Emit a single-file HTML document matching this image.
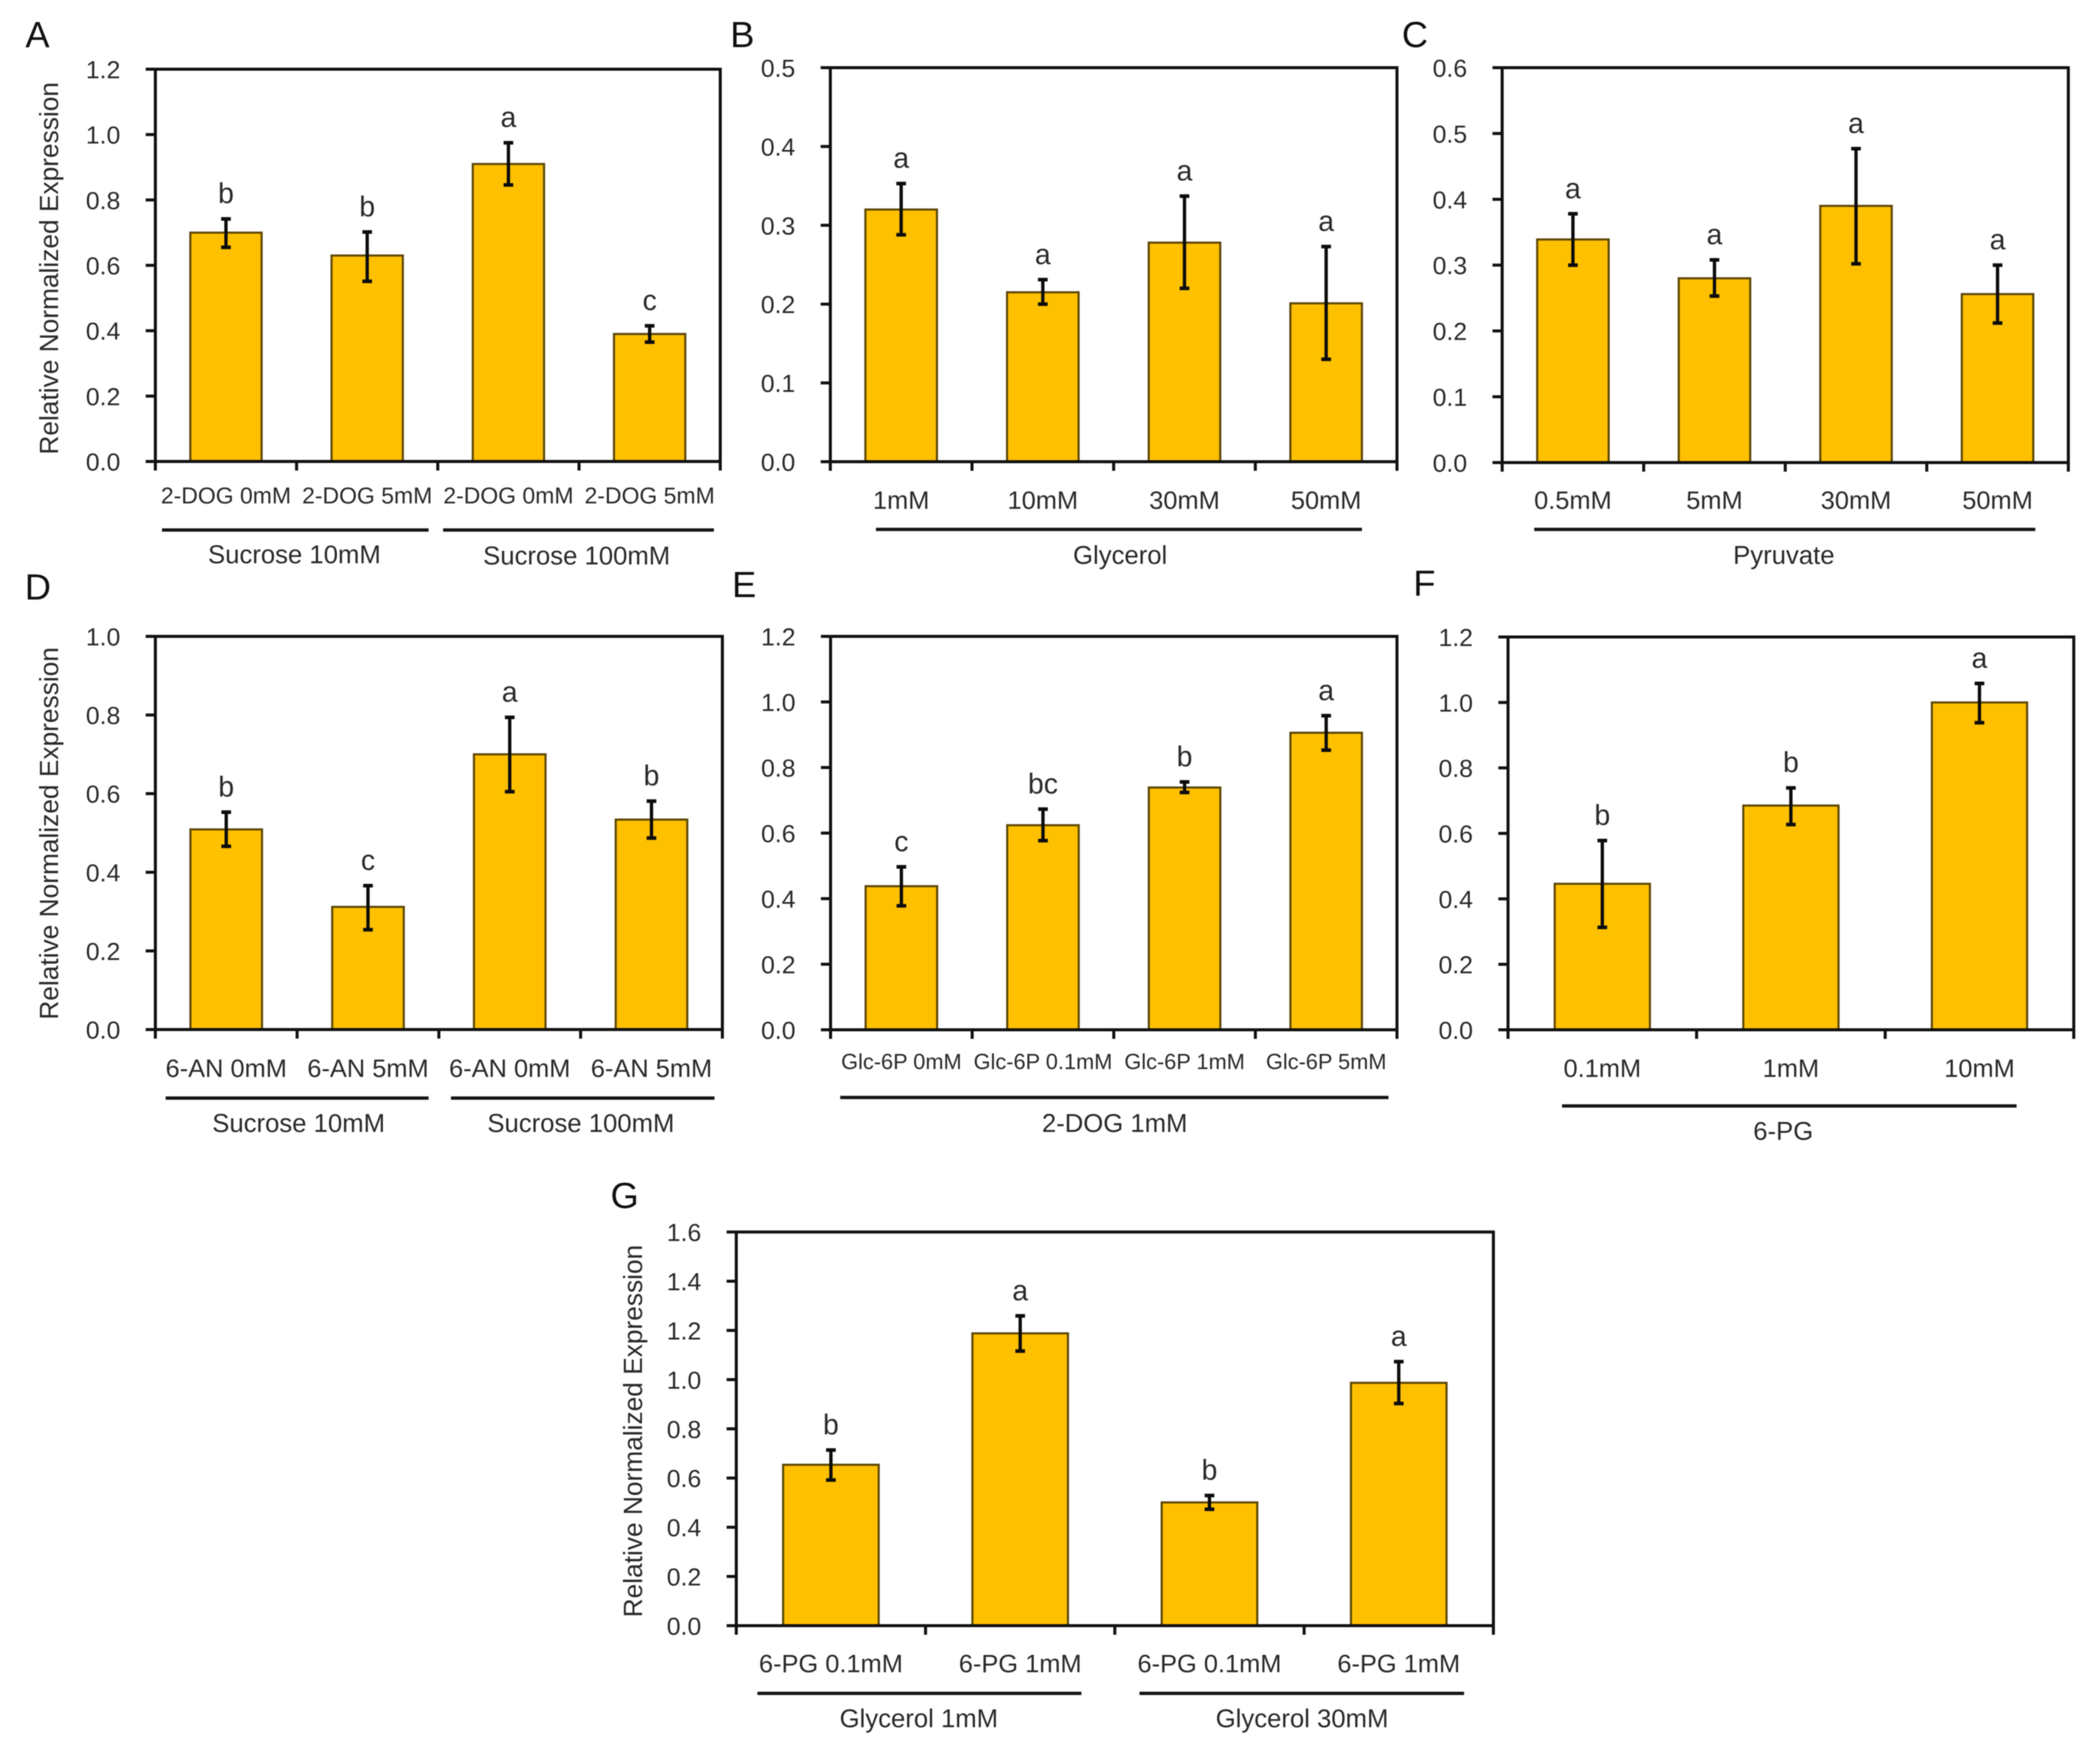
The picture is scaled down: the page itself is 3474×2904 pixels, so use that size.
<!DOCTYPE html>
<html lang="en">
<head>
<meta charset="utf-8">
<title>Relative normalized expression bar charts</title>
<style>
html,body{margin:0;padding:0;background:#fff;}
svg{display:block;filter:blur(0.8px);}
text{font-family:"Liberation Sans",Arial,sans-serif;fill:#2a2a2a;}
.pl{font-size:60px;fill:#111;}
.gl{font-size:42.5px;text-anchor:middle;}
.yt{font-size:43.5px;text-anchor:middle;}
.gr{stroke:#151515;stroke-width:5.5;}
</style>
</head>
<body>
<svg id="figure" xmlns="http://www.w3.org/2000/svg" width="3474" height="2904" viewBox="0 0 3474 2904">
  <rect width="3474" height="2904" fill="#fff"/>

  <g id="panel-a">
    <text class="pl" x="42" y="78">A</text>
    <text class="yt" transform="translate(96,444) rotate(-90)">Relative Normalized Expression</text>
    <line class="gr" x1="268" x2="709" y1="877" y2="877"/>
    <line class="gr" x1="733" x2="1181" y1="877" y2="877"/>
    <text class="gl" x="487" y="932">Sucrose 10mM</text>
    <text class="gl" x="954" y="934">Sucrose 100mM</text>
  </g>

  <g id="panel-b">
    <text class="pl" x="1208" y="78">B</text>
    <line class="gr" x1="1449" x2="2253" y1="876" y2="876"/>
    <text class="gl" x="1853" y="933">Glycerol</text>
  </g>

  <g id="panel-c">
    <text class="pl" x="2319" y="78">C</text>
    <line class="gr" x1="2538" x2="3367" y1="876" y2="876"/>
    <text class="gl" x="2951" y="933">Pyruvate</text>
  </g>

  <g id="panel-d">
    <text class="pl" x="41" y="992">D</text>
    <text class="yt" transform="translate(96,1379) rotate(-90)">Relative Normalized Expression</text>
    <line class="gr" x1="274" x2="709" y1="1817" y2="1817"/>
    <line class="gr" x1="746" x2="1182" y1="1817" y2="1817"/>
    <text class="gl" x="494" y="1873">Sucrose 10mM</text>
    <text class="gl" x="961" y="1873">Sucrose 100mM</text>
  </g>

  <g id="panel-e">
    <text class="pl" x="1211" y="988">E</text>
    <line class="gr" x1="1390" x2="2297" y1="1816" y2="1816"/>
    <text class="gl" x="1844" y="1873">2-DOG 1mM</text>
  </g>

  <g id="panel-f">
    <text class="pl" x="2338" y="986">F</text>
    <line class="gr" x1="2584" x2="3336" y1="1830" y2="1830"/>
    <text class="gl" x="2950" y="1886">6-PG</text>
  </g>

  <g id="panel-g">
    <text class="pl" x="1010" y="1999">G</text>
    <text class="yt" transform="translate(1062,2368) rotate(-90)">Relative Normalized Expression</text>
    <line class="gr" x1="1253" x2="1789" y1="2802" y2="2802"/>
    <line class="gr" x1="1885" x2="2422" y1="2802" y2="2802"/>
    <text class="gl" x="1520" y="2858">Glycerol 1mM</text>
    <text class="gl" x="2154" y="2858">Glycerol 30mM</text>
  </g>
</svg>

<script>
// Panel A
const aCategories = ['2-DOG 0mM', '2-DOG 5mM', '2-DOG 0mM', '2-DOG 5mM'];
const aValues = [0.70, 0.63, 0.91, 0.39];
const aErrHigh = [0.742, 0.702, 0.975, 0.415];
const aErrLow = [0.655, 0.551, 0.846, 0.365];
const aLetters = ['b', 'b', 'a', 'c'];
const aTicks = ['0.0', '0.2', '0.4', '0.6', '0.8', '1.0', '1.2'];
// Panel B
const bCategories = ['1mM', '10mM', '30mM', '50mM'];
const bValues = [0.32, 0.215, 0.278, 0.201];
const bErrHigh = [0.353, 0.231, 0.337, 0.273];
const bErrLow = [0.288, 0.2, 0.22, 0.13];
const bLetters = ['a', 'a', 'a', 'a'];
const bTicks = ['0.0', '0.1', '0.2', '0.3', '0.4', '0.5'];
// Panel C
const cCategories = ['0.5mM', '5mM', '30mM', '50mM'];
const cValues = [0.339, 0.28, 0.39, 0.256];
const cErrHigh = [0.378, 0.308, 0.477, 0.30];
const cErrLow = [0.30, 0.253, 0.302, 0.212];
const cLetters = ['a', 'a', 'a', 'a'];
const cTicks = ['0.0', '0.1', '0.2', '0.3', '0.4', '0.5', '0.6'];
// Panel D
const dCategories = ['6-AN 0mM', '6-AN 5mM', '6-AN 0mM', '6-AN 5mM'];
const dValues = [0.509, 0.312, 0.70, 0.534];
const dErrHigh = [0.553, 0.366, 0.794, 0.581];
const dErrLow = [0.466, 0.254, 0.605, 0.487];
const dLetters = ['b', 'c', 'a', 'b'];
const dTicks = ['0.0', '0.2', '0.4', '0.6', '0.8', '1.0'];
// Panel E
const eCategories = ['Glc-6P 0mM', 'Glc-6P 0.1mM', 'Glc-6P 1mM', 'Glc-6P 5mM'];
const eValues = [0.438, 0.624, 0.739, 0.906];
const eErrHigh = [0.497, 0.673, 0.756, 0.958];
const eErrLow = [0.378, 0.577, 0.724, 0.853];
const eLetters = ['c', 'bc', 'b', 'a'];
const eTicks = ['0.0', '0.2', '0.4', '0.6', '0.8', '1.0', '1.2'];
// Panel F
const fCategories = ['0.1mM', '1mM', '10mM'];
const fValues = [0.446, 0.685, 1.0];
const fErrHigh = [0.578, 0.739, 1.058];
const fErrLow = [0.313, 0.627, 0.938];
const fLetters = ['b', 'b', 'a'];
const fTicks = ['0.0', '0.2', '0.4', '0.6', '0.8', '1.0', '1.2'];
// Panel G
const gCategories = ['6-PG 0.1mM', '6-PG 1mM', '6-PG 0.1mM', '6-PG 1mM'];
const gValues = [0.654, 1.188, 0.501, 0.987];
const gErrHigh = [0.714, 1.259, 0.529, 1.073];
const gErrLow = [0.592, 1.116, 0.473, 0.903];
const gLetters = ['b', 'a', 'b', 'a'];
const gTicks = ['0.0', '0.2', '0.4', '0.6', '0.8', '1.0', '1.2', '1.4', '1.6'];

const NS = 'http://www.w3.org/2000/svg';

function make(parent, tag, attrs, text) {
  const el = document.createElementNS(NS, tag);
  for (const k in attrs) el.setAttribute(k, attrs[k]);
  if (text !== undefined) el.textContent = text;
  parent.appendChild(el);
  return el;
}

function drawPanel(id, box, labelStyle, categories, values, errHigh, errLow, letters, ticks) {
  const g = document.getElementById(id);
  const yMax = Math.max.apply(null, ticks.map(Number));
  const yOf = function (v) { return box.bottom - (v / yMax) * (box.bottom - box.top); };
  const step = (box.right - box.left) / categories.length;
  const xOf = function (i) { return box.left + step * (i + 0.5); };
  const barW = step * 0.505;

  values.forEach(function (v, i) {
    const bar = make(g, 'rect', {
      x: xOf(i) - barW / 2, y: yOf(v), width: barW, height: box.bottom - yOf(v),
      fill: '#FFC000', stroke: '#5c4706', 'stroke-width': 3.5
    });
    
    
  });

  const frame = make(g, 'rect', {
    x: box.left, y: box.top, width: box.right - box.left, height: box.bottom - box.top,
    fill: 'none', stroke: '#111', 'stroke-width': 5
  });
  
  

  ticks.forEach(function (label) {
    const y = yOf(Number(label));
    const tick = make(g, 'line', {
      x1: box.left - 16, x2: box.left, y1: y, y2: y, stroke: '#111', 'stroke-width': 5
    });
    
    
    const tickLabel = make(g, 'text', {
      x: box.left - 58, y: y + 15, 'text-anchor': 'end', 'font-size': 41
    }, label);
    
    
  });

  for (let i = 0; i <= categories.length; i++) {
    const x = box.left + step * i;
    const xTick = make(g, 'line', {
      x1: x, x2: x, y1: box.bottom, y2: box.bottom + 15, stroke: '#111', 'stroke-width': 5
    });
    
    
  }

  categories.forEach(function (name, i) {
    const xLabel = make(g, 'text', {
      x: xOf(i), y: labelStyle.baseline, 'text-anchor': 'middle', 'font-size': labelStyle.size
    }, name);
    
    
  });

  errHigh.forEach(function (hi, i) {
    const x = xOf(i);
    const stem = make(g, 'line', {
      x1: x, x2: x, y1: yOf(hi), y2: yOf(errLow[i]), stroke: '#0c0c0c', 'stroke-width': 5.5
    });
    
    
    const capHigh = make(g, 'line', {
      x1: x - 8, x2: x + 8, y1: yOf(hi), y2: yOf(hi), stroke: '#0c0c0c', 'stroke-width': 6
    });
    
    
    const capLow = make(g, 'line', {
      x1: x - 8, x2: x + 8, y1: yOf(errLow[i]), y2: yOf(errLow[i]), stroke: '#0c0c0c', 'stroke-width': 6
    });
    
    
    const letter = make(g, 'text', {
      x: x, y: yOf(hi) - 26, 'text-anchor': 'middle', 'font-size': 47
    }, letters[i]);
    
    
  });
}

drawPanel('panel-a', {left: 257, right: 1191.5, top: 114.5, bottom: 763.6}, {size: 38, baseline: 833},
  aCategories, aValues, aErrHigh, aErrLow, aLetters, aTicks);
drawPanel('panel-b', {left: 1373.6, right: 2311, top: 112, bottom: 764}, {size: 42, baseline: 842},
  bCategories, bValues, bErrHigh, bErrLow, bLetters, bTicks);
drawPanel('panel-c', {left: 2485, right: 3421.6, top: 112, bottom: 765.4}, {size: 42, baseline: 842},
  cCategories, cValues, cErrHigh, cErrLow, cLetters, cTicks);
drawPanel('panel-d', {left: 257, right: 1195, top: 1053, bottom: 1703.6}, {size: 42, baseline: 1782},
  dCategories, dValues, dErrHigh, dErrLow, dLetters, dTicks);
drawPanel('panel-e', {left: 1374, right: 2311, top: 1053, bottom: 1704}, {size: 36, baseline: 1769},
  eCategories, eValues, eErrHigh, eErrLow, eLetters, eTicks);
drawPanel('panel-f', {left: 2494.7, right: 3430.6, top: 1054, bottom: 1704}, {size: 42, baseline: 1782},
  fCategories, fValues, fErrHigh, fErrLow, fLetters, fTicks);
drawPanel('panel-g', {left: 1218, right: 2470.5, top: 2038.6, bottom: 2690}, {size: 42, baseline: 2767},
  gCategories, gValues, gErrHigh, gErrLow, gLetters, gTicks);
</script>
</body>
</html>
